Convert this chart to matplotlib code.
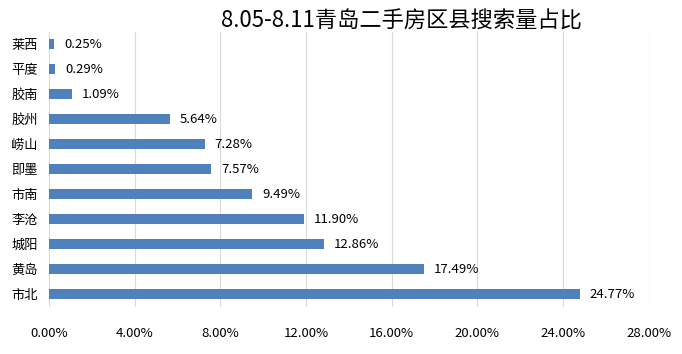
import matplotlib
matplotlib.use("Agg")
import matplotlib.pyplot as plt
from matplotlib.ticker import FuncFormatter

plt.rcParams['font.family'] = ['Noto Sans CJK SC', 'DejaVu Sans']

districts = ["莱西", "平度", "胶南", "胶州", "崂山", "即墨", "市南", "李沧", "城阳", "黄岛", "市北"]
shares = [0.25, 0.29, 1.09, 5.64, 7.28, 7.57, 9.49, 11.90, 12.86, 17.49, 24.77]
xticks = [0, 4, 8, 12, 16, 20, 24, 28]

fig = plt.figure(figsize=(6.82, 3.54), dpi=100)
ax = fig.add_axes([0.0718, 0.134, 0.8795, 0.777])

pos = list(range(len(districts)))
ax.barh(pos, shares, height=0.4, color="#4F81BD", zorder=3)
ax.set_ylim(len(districts) - 0.5, -0.5)
ax.set_yticks(pos)
ax.set_yticklabels(districts, fontsize=9.5)

ax.set_xlim(0, 28)
ax.set_xticks(xticks)
ax.xaxis.set_major_formatter(FuncFormatter(lambda v, p: "%.2f%%" % v))
ax.tick_params(axis="x", labelsize=9.5, length=0, pad=15)
ax.tick_params(axis="y", length=0, pad=8)
ax.grid(axis="x", color="#D9D9D9", linewidth=0.8, zorder=0)

for s in ax.spines.values():
    s.set_visible(False)

for i, v in enumerate(shares):
    ax.annotate("%.2f%%" % v, (v, i), xytext=(7, 0), textcoords="offset points",
                va="center", ha="left", fontsize=9.5)

fig.text(0.588, 0.94, "8.05-8.11青岛二手房区县搜索量占比", ha="center", va="center", fontsize=16)

fig.savefig("out.png", dpi=100)
